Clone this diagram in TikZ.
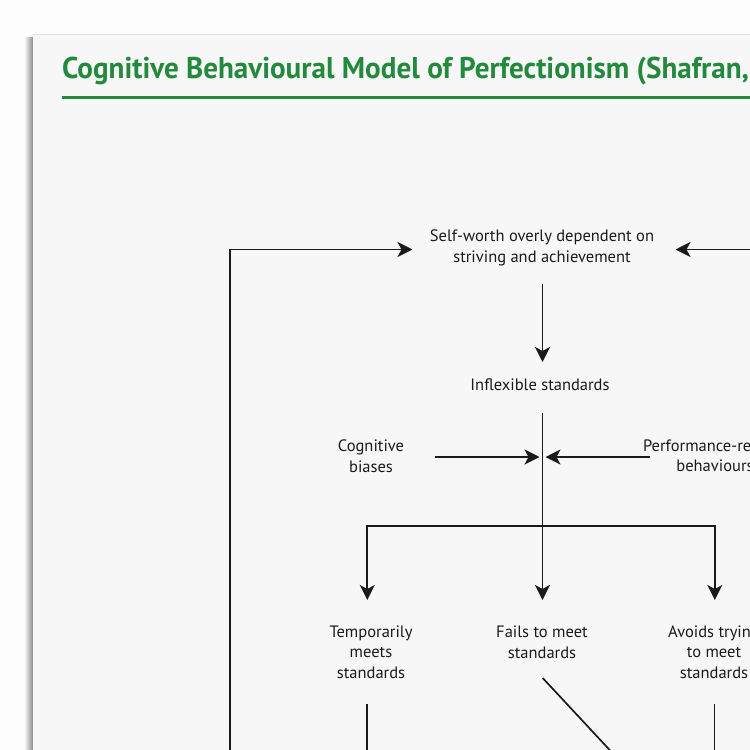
\documentclass[tikz,border=0pt]{standalone}
\usepackage{fontspec}
\setmainfont{PT Sans}
\usetikzlibrary{arrows.meta}
\definecolor{panel}{HTML}{F7F7F7}
\definecolor{pagebg}{HTML}{FDFDFD}
\definecolor{ttlgreen}{HTML}{23893D}
\definecolor{ink}{HTML}{1A1A1A}
\tikzset{
  lbl/.style={inner sep=0pt, outer sep=0pt, align=center, text=ink,
    font=\fontsize{16.5}{20.5}\selectfont},
  arr/.style={draw=ink, line width=1.7pt, -{Stealth[length=15pt,width=15pt,inset=4pt]}},
  ln/.style={draw=ink, line width=1.7pt},
}
\begin{document}
\begin{tikzpicture}[x=1pt,y=-1pt]
\useasboundingbox (0,0) rectangle (750,750);
\fill[pagebg] (0,0) rectangle (750,750);
% shadow of the panel
\shade[left color=pagebg, right color=black!45] (24,37) rectangle (33,750);
\fill[black!12] (33,33.5) rectangle (750,35);
\fill[panel] (33,35) rectangle (750,750);
% title
\node[anchor=base west, inner sep=0pt, text=ttlgreen,
  font=\fontsize{30}{36}\selectfont\bfseries] (title) at (62,78)
  {\scalebox{0.97}[1]{Cognitive Behavioural Model of Perfectionism (Shafran,}};
\fill[ttlgreen] (62,95.5) rectangle (750,98.5);
% nodes
\node[lbl] (sw) at (542,248) {Self-worth overly dependent on\\striving and achievement};
\node[lbl] (inf) at (540,385) {Inflexible standards};
\node[lbl] (cog) at (371,456) {Cognitive\\biases};
\node[lbl] (perf) at (715,456) {Performance-related\\behaviours};
\node[lbl] (tms) at (371,652) {Temporarily\\meets\\standards};
\node[lbl] (fail) at (542,642) {Fails to meet\\standards};
\node[lbl] (avoid) at (714,652) {Avoids trying\\to meet\\standards};
% coordinates
\coordinate (j) at (542.5,457);
\coordinate (br) at (542.5,526);
\coordinate (loopb) at (230,760);
\coordinate (loopr) at (760,249.5);
\coordinate (tmsb) at (367,760);
\coordinate (failb) at (619,760);
\coordinate (avoidb) at (714.5,760);
% connectors
\draw[arr] (loopb) |- (412.5,249.5);
\draw[arr] (loopr) -- (675.5,249.5);
\draw[arr] (542.5,283.5) -- (542.5,362);
\draw[arr] (542.5,413) -- (542.5,600);
\draw[arr] (435,457) -- (539.5,457);
\draw[arr] (650,457) -- (545.5,457);
\draw[arr] (br) -| (367.3,600);
\draw[arr] (br) -| (714.8,600);
\draw[ln] (367,703.5) -- (tmsb);
\draw[ln] (542.7,678) -- (failb);
\draw[ln] (714.5,703.5) -- (avoidb);
\end{tikzpicture}
\end{document}
